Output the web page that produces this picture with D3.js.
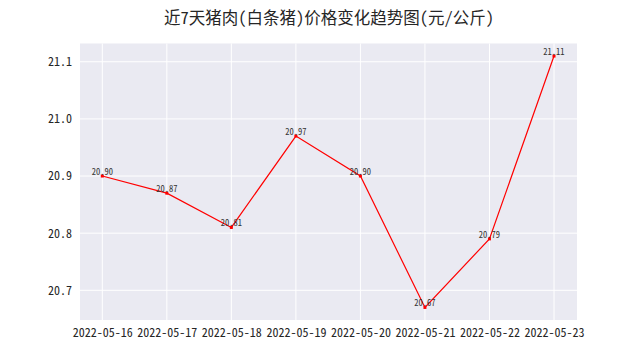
<!DOCTYPE html>
<html><head><meta charset="utf-8">
<script src="https://cdn.jsdelivr.net/npm/d3@7"></script>
<style>body{margin:0;background:#fff}svg{display:block}
.hw{font-feature-settings:"hwid" 1;}</style>
</head><body>
<script>
const dates = ["2022-05-16","2022-05-17","2022-05-18","2022-05-19","2022-05-20","2022-05-21","2022-05-22","2022-05-23"];
const prices = [20.90, 20.87, 20.81, 20.97, 20.90, 20.67, 20.79, 21.11];
const yTicks = [20.7, 20.8, 20.9, 21.0, 21.1];
const title = "近7天猪肉(白条猪)价格变化趋势图(元/公斤)";

const W = 641, H = 361;
const m = {left: 80, right: 64, top: 43.5, bottom: 41};
const font = "'Noto Sans CJK SC','DejaVu Sans',sans-serif";
const svg = d3.select("body").append("svg").attr("width", W).attr("height", H);

const x = d3.scalePoint().domain(dates).range([102.3, 554]);
const ymin = d3.min(prices), ymax = d3.max(prices), pad = (ymax - ymin) * 0.05;
const y = d3.scaleLinear().domain([ymin - pad, ymax + pad]).range([H - m.bottom, m.top]);

svg.append("rect").attr("x", m.left).attr("y", m.top)
  .attr("width", W - m.left - m.right).attr("height", H - m.top - m.bottom)
  .attr("fill", "#EAEAF2");

// grid
svg.append("g").selectAll("line").data(yTicks).join("line")
  .attr("x1", m.left).attr("x2", W - m.right)
  .attr("y1", d => y(d)).attr("y2", d => y(d))
  .attr("stroke", "#fff").attr("stroke-width", 1);
svg.append("g").selectAll("line").data(dates).join("line")
  .attr("x1", d => x(d)).attr("x2", d => x(d))
  .attr("y1", m.top).attr("y2", H - m.bottom)
  .attr("stroke", "#fff").attr("stroke-width", 1);

// axes
const xAxis = svg.append("g").attr("transform", `translate(0,${H - m.bottom})`)
  .call(d3.axisBottom(x).tickSize(0).tickPadding(8));
xAxis.select(".domain").remove();
xAxis.selectAll("text").attr("class", "hw").attr("font-family", font).attr("font-size", 12).attr("fill", "#262626");

const yAxis = svg.append("g").attr("transform", `translate(${m.left},0)`)
  .call(d3.axisLeft(y).tickValues(yTicks).tickFormat(d3.format(".1f")).tickSize(0).tickPadding(8));
yAxis.select(".domain").remove();
yAxis.selectAll("text").attr("class", "hw").attr("font-family", font).attr("font-size", 12).attr("fill", "#262626");

// line
const line = d3.line().x((d, i) => x(dates[i])).y(d => y(d));
svg.append("path").datum(prices).attr("d", line)
  .attr("fill", "none").attr("stroke", "#ff0000").attr("stroke-width", 1.2);
svg.append("g").selectAll("rect").data(prices).join("rect")
  .attr("x", (d, i) => x(dates[i]) - 1.5).attr("y", d => y(d) - 1.5)
  .attr("width", 3).attr("height", 3).attr("fill", "#ff0000");

// labels
svg.append("g").selectAll("text").data(prices).join("text")
  .attr("class", "hw")
  .attr("x", (d, i) => x(dates[i])).attr("y", d => y(d) - 1)
  .attr("text-anchor", "middle").attr("font-family", font).attr("font-size", 8.5)
  .attr("fill", "#333").text(d => d.toFixed(2));

svg.append("text").attr("class", "hw").attr("x", 329).attr("y", 24).attr("text-anchor", "middle")
  .attr("font-family", font).attr("font-size", 16.5).attr("fill", "#262626").text(title);
</script>
</body></html>
